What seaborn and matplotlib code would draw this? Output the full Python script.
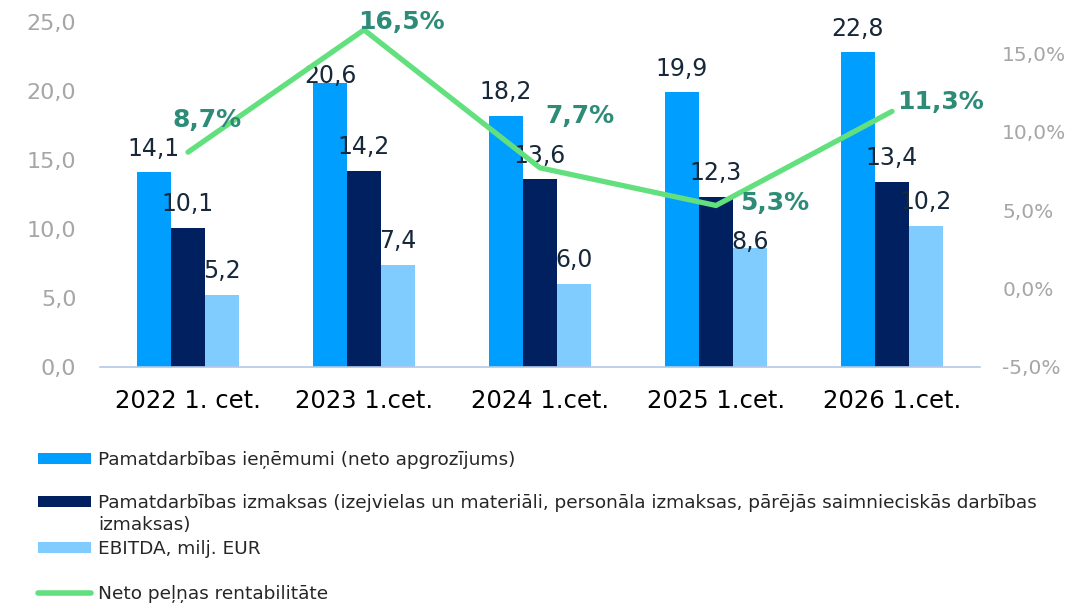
import numpy as np
import pandas as pd
import matplotlib
matplotlib.use("Agg")
import matplotlib.pyplot as plt
import seaborn as sns
from matplotlib.patches import Patch
from matplotlib.lines import Line2D

categories = ["2022 1. cet.", "2023 1.cet.", "2024 1.cet.", "2025 1.cet.", "2026 1.cet."]
revenue = [14.1, 20.6, 18.2, 19.9, 22.8]
costs = [10.1, 14.2, 13.6, 12.3, 13.4]
ebitda = [5.2, 7.4, 6.0, 8.6, 10.2]
margin = [8.7, 16.5, 7.7, 5.3, 11.3]

series_names = [
    "Pamatdarbības ieņēmumi (neto apgrozījums)",
    "Pamatdarbības izmaksas (izejvielas un materiāli, personāla izmaksas, pārējās saimnieciskās darbības",
    "EBITDA, milj. EUR",
]
line_name = "Neto peļņas rentabilitāte"
wrap_tail = "izmaksas)"

left_ticks = [0, 5, 10, 15, 20, 25]
right_ticks = [-5, 0, 5, 10, 15]

colors = ["#009FFF", "#002060", "#80CCFF"]
line_color = "#62E07E"
pct_color = "#2E8B78"
label_color = "#17283A"
tick_grey = "#A6A6A6"

# layout: offsets (points) for percentage labels; labels set lower on the bar top
pct_offsets = [(14, 23), (27, 6), (29, 37), (42, 2), (35, 7)]
lowered_labels = {(0, 1), (2, 3)}  # (series index, category index)

df = pd.DataFrame({
    "cat": categories * 3,
    "series": [series_names[0]] * 5 + [series_names[1]] * 5 + [series_names[2]] * 5,
    "value": revenue + costs + ebitda,
})

sns.set_style("white")
plt.rcParams["font.family"] = ["DejaVu Sans"]

fig = plt.figure(figsize=(10.9, 6.06), dpi=100)
ax = fig.add_axes([100 / 1090, 239 / 606, 880 / 1090, 345 / 606])

sns.barplot(data=df, x="cat", y="value", hue="series", hue_order=series_names,
            palette=colors, width=0.58, ax=ax, legend=False, saturation=1,
            linewidth=0, edgecolor="none")

for si, cont in enumerate(ax.containers):
    vals = [b.get_height() for b in cont]
    txt = [f"{v:.1f}".replace(".", ",") for v in vals]
    normal = [t if (si, ci) not in lowered_labels else "" for ci, t in enumerate(txt)]
    low = [t if (si, ci) in lowered_labels else "" for ci, t in enumerate(txt)]
    ax.bar_label(cont, labels=normal, padding=8.5, fontsize=17, color=label_color)
    ax.bar_label(cont, labels=low, padding=-4, fontsize=17, color=label_color)

ax.set_xlim(-0.5, 4.5)
ax.set_ylim(0, 25)
ax.set_yticks(left_ticks)
ax.set_yticklabels([f"{v:.1f}".replace(".", ",") for v in left_ticks])
ax.set_xlabel("")
ax.set_ylabel("")
ax.tick_params(axis="y", length=0, pad=17, labelsize=16, labelcolor=tick_grey)
ax.tick_params(axis="x", length=0, pad=16, labelsize=17.5, labelcolor="black")
for s in ["top", "left", "right"]:
    ax.spines[s].set_visible(False)
ax.spines["bottom"].set_color("#B4C7E7")
ax.spines["bottom"].set_linewidth(1.2)

ax2 = ax.twinx()
xs = np.arange(len(categories))
sns.lineplot(x=xs, y=margin, ax=ax2, color=line_color, linewidth=3.8)
ax2.set_ylim(-5, 17)
ax2.set_yticks(right_ticks)
ax2.set_yticklabels([f"{v:.1f}".replace(".", ",") + "%" for v in right_ticks])
ax2.tick_params(axis="y", length=0, pad=16, labelsize=14.5, labelcolor=tick_grey)
for s in ["top", "left", "right", "bottom"]:
    ax2.spines[s].set_visible(False)
ax2.set_xlim(-0.5, 4.5)

for x, m, off in zip(xs, margin, pct_offsets):
    ax2.annotate(f"{m:.1f}".replace(".", ",") + "%", (x, m), xytext=off,
                 textcoords="offset points", ha="center", va="center",
                 fontsize=18, fontweight="bold", color=pct_color)

# legend entries
leg_fs = 13.3
leg_y = [460, 503, 549, 594]
handles = [Patch(facecolor=c, edgecolor="none") for c in colors] + \
          [Line2D([0], [0], color=line_color, linewidth=4, solid_capstyle="round")]
labels = series_names + [line_name]
for h, l, y in zip(handles, labels, leg_y):
    fig.legend([h], [l], loc="center left", bbox_to_anchor=(38 / 1090, 1 - y / 606),
               frameon=False, fontsize=leg_fs, handlelength=2.85, handleheight=0.55,
               handletextpad=0.4, borderpad=0, borderaxespad=0)
fig.text(98 / 1090, 1 - 525 / 606, wrap_tail, fontsize=leg_fs, va="center", ha="left")

fig.savefig("out.png", dpi=100)
